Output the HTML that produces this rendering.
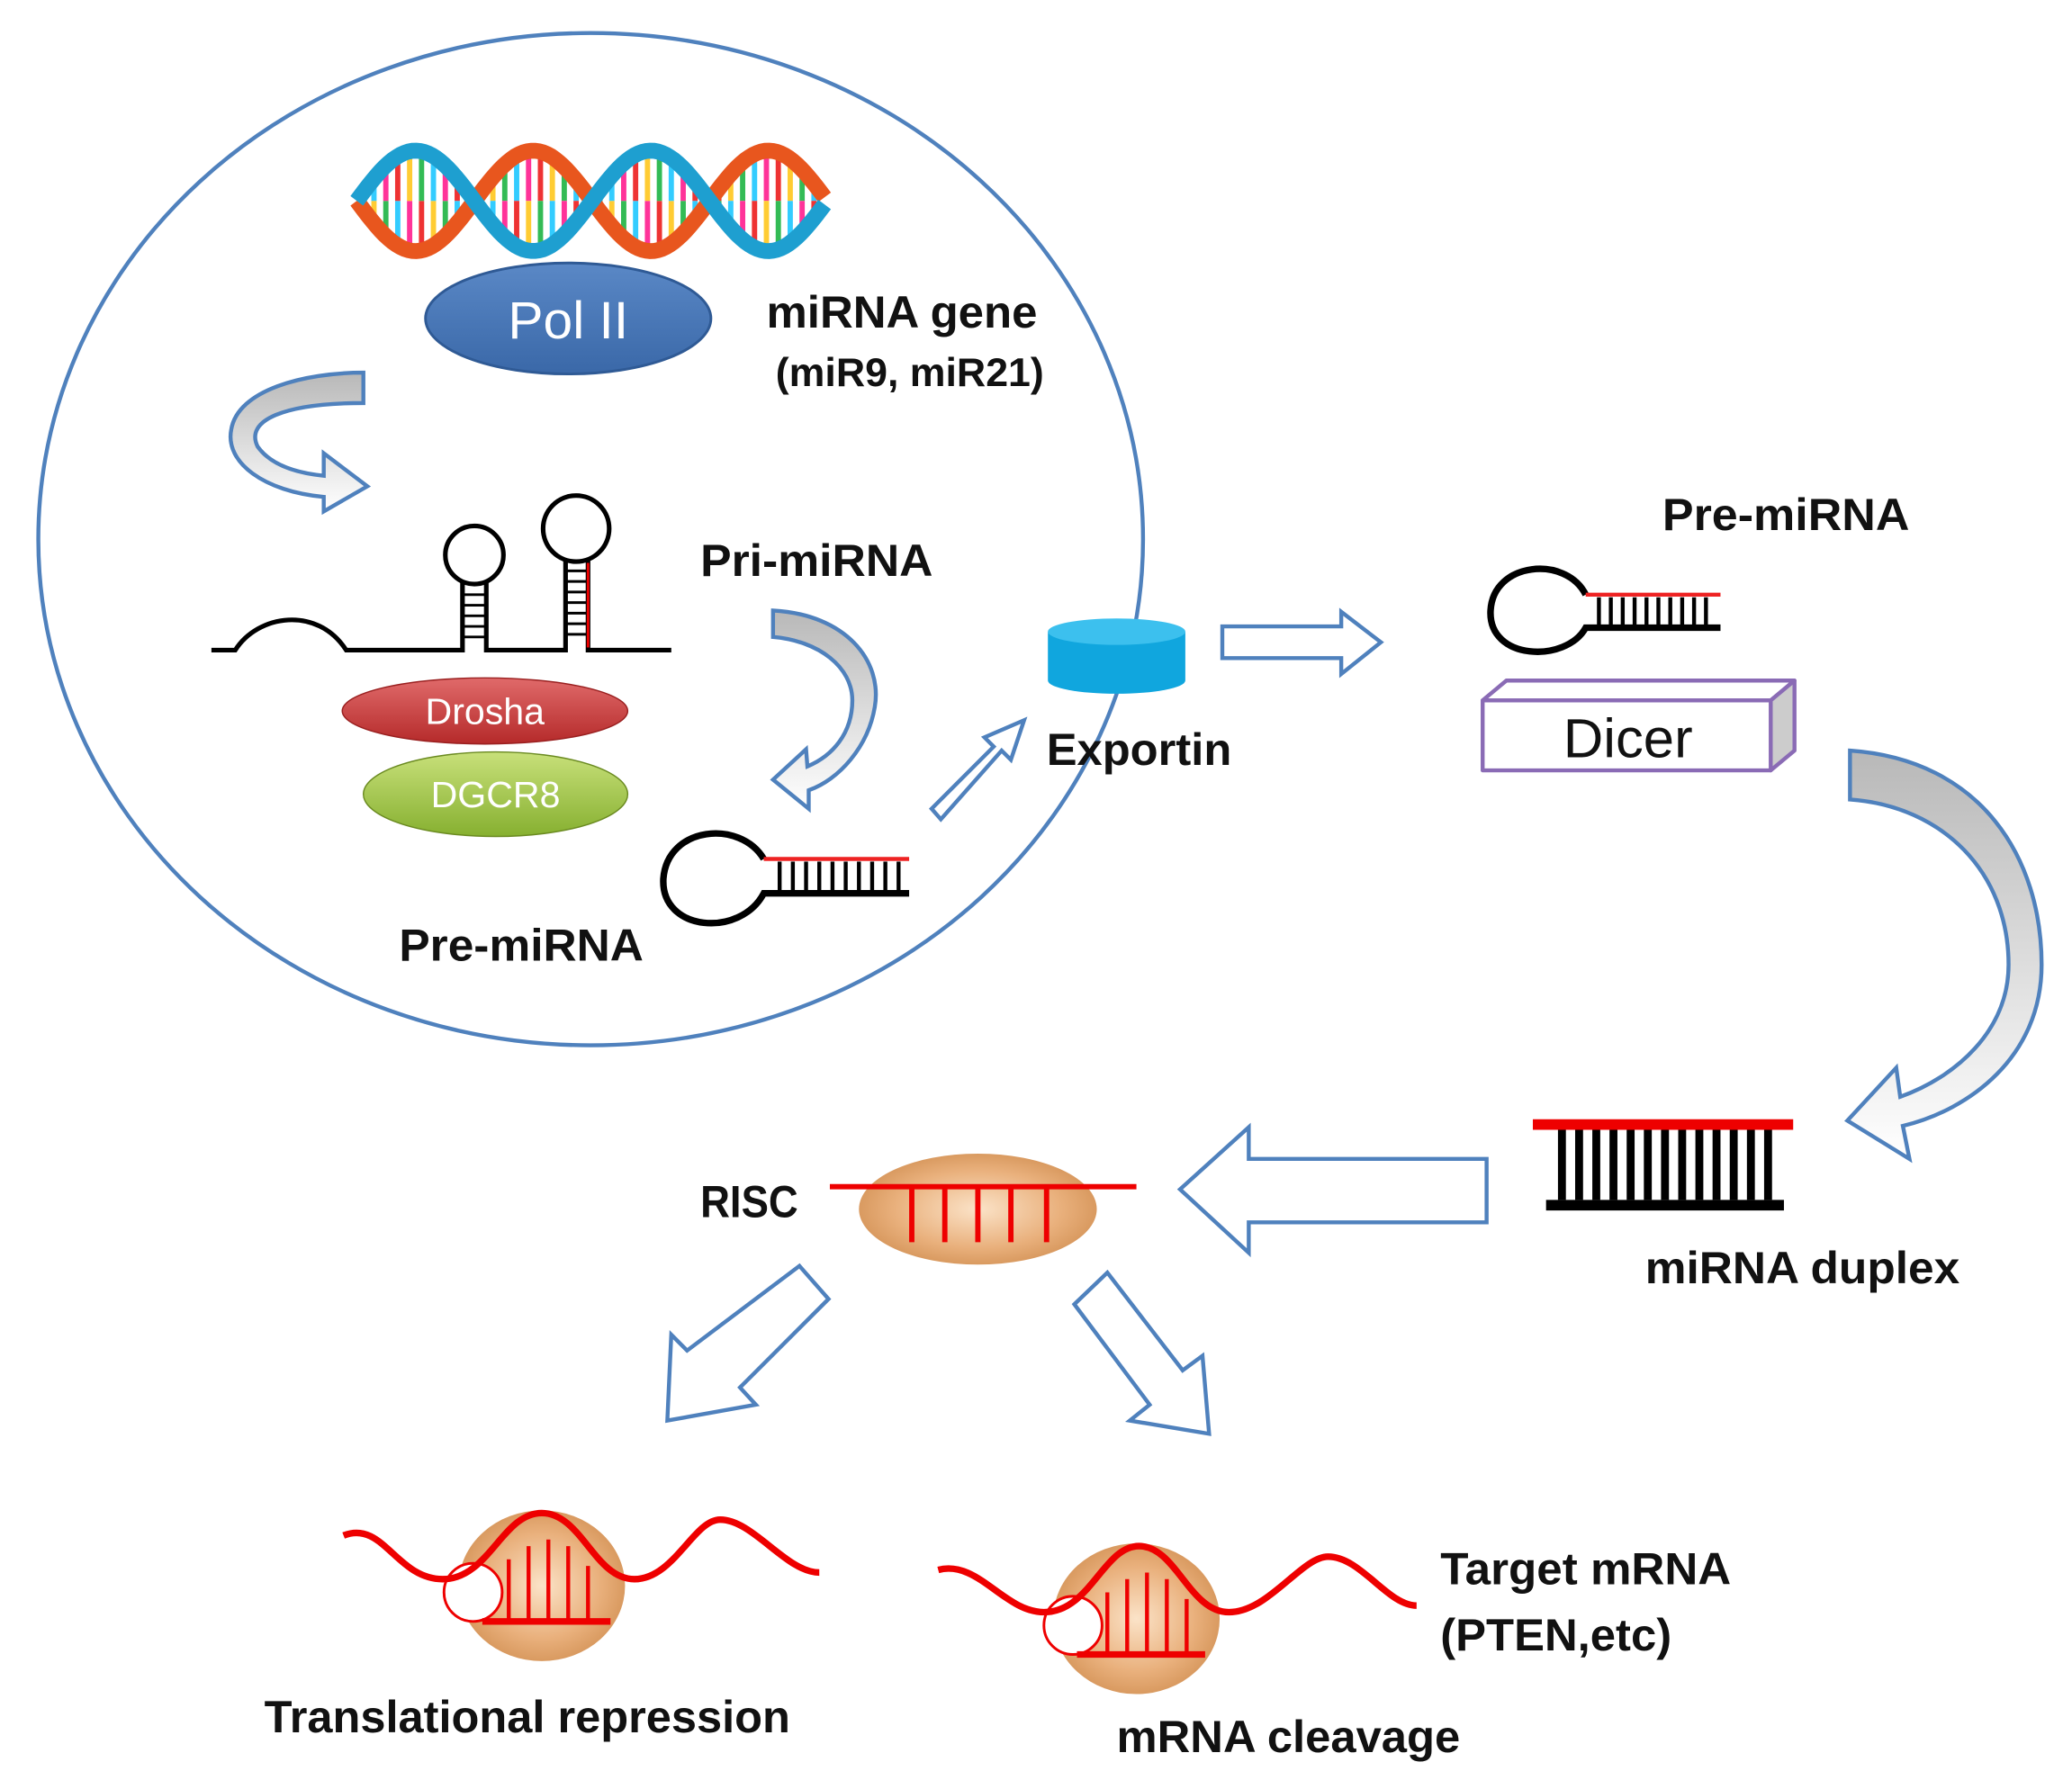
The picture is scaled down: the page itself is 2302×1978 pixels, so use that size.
<!DOCTYPE html>
<html><head><meta charset="utf-8"><style>
html,body{margin:0;padding:0;background:#fff;}
svg{display:block;}
text{font-family:"Liberation Sans",sans-serif;font-weight:bold;fill:#111;}
</style></head><body>
<svg id="s" width="2302" height="1978" viewBox="0 0 1568 1347" preserveAspectRatio="none" xmlns="http://www.w3.org/2000/svg">
<defs>
<linearGradient id="gr" x1="0" y1="0" x2="0" y2="1"><stop offset="0" stop-color="#b8b8b8"/><stop offset="1" stop-color="#ffffff"/></linearGradient>
<radialGradient id="org" cx="0.5" cy="0.5" r="0.5"><stop offset="0" stop-color="#fbe3c8"/><stop offset="0.7" stop-color="#e9b07c"/><stop offset="1" stop-color="#d99a60"/></radialGradient>
<linearGradient id="pol" x1="0" y1="0" x2="0" y2="1"><stop offset="0" stop-color="#5a88c6"/><stop offset="1" stop-color="#3a68a8"/></linearGradient>
<linearGradient id="dro" x1="0" y1="0" x2="0" y2="1"><stop offset="0" stop-color="#e06a6a"/><stop offset="1" stop-color="#b52a2a"/></linearGradient>
<linearGradient id="dgc" x1="0" y1="0" x2="0" y2="1"><stop offset="0" stop-color="#c8e07a"/><stop offset="1" stop-color="#86b030"/></linearGradient>
</defs>
<g stroke="#4f81bd" stroke-width="3">
<ellipse cx="447" cy="408" rx="418" ry="383" fill="none"/>
</g>
<g id="helix"></g>
<ellipse cx="430" cy="241" rx="108" ry="42" fill="url(#pol)" stroke="#2f5a95" stroke-width="2"/>
<text x="430" y="256" text-anchor="middle" font-size="40" style="fill:#fff;font-weight:normal">Pol II</text>
<text x="580" y="248" font-size="34" textLength="205" lengthAdjust="spacingAndGlyphs">miRNA gene</text>
<text x="587" y="292" font-size="30" textLength="203" lengthAdjust="spacingAndGlyphs">(miR9, miR21)</text>
<path d="M275,282 L275,305 C215,305 185,318 195,338 C205,352 225,358 245,360 L245,343 L278,368 L245,387 L245,376 C200,372 170,350 175,325 C180,295 230,282 275,282 Z" fill="url(#gr)" stroke="#4f81bd" stroke-width="3"/>
<g fill="none" stroke="#000" stroke-width="3.5">
<path d="M160,492 L178,492 C195,465 240,458 262,492 L350,492 L350,440 M368,440 L368,492 L428,492 L428,424 M445,424 L445,492 L508,492"/>
<circle cx="359" cy="420" r="22"/>
<circle cx="436" cy="400" r="25"/>
</g>
<g stroke="#000" stroke-width="2"><line x1="350" y1="450" x2="368" y2="450"/><line x1="350" y1="458" x2="368" y2="458"/><line x1="350" y1="466" x2="368" y2="466"/><line x1="350" y1="474" x2="368" y2="474"/><line x1="350" y1="482" x2="368" y2="482"/>
<line x1="428" y1="432" x2="445" y2="432"/><line x1="428" y1="440" x2="445" y2="440"/><line x1="428" y1="448" x2="445" y2="448"/><line x1="428" y1="456" x2="445" y2="456"/><line x1="428" y1="464" x2="445" y2="464"/><line x1="428" y1="472" x2="445" y2="472"/><line x1="428" y1="480" x2="445" y2="480"/></g>
<line x1="445" y1="426" x2="445" y2="490" stroke="#e00" stroke-width="2"/>
<text x="530" y="436" font-size="34" textLength="176" lengthAdjust="spacingAndGlyphs">Pri-miRNA</text>
<ellipse cx="367" cy="538" rx="108" ry="25" fill="url(#dro)" stroke="#9a2020" stroke-width="1"/>
<text x="367" y="548" text-anchor="middle" font-size="28" style="fill:#fff;font-weight:normal">Drosha</text>
<ellipse cx="375" cy="601" rx="100" ry="32" fill="url(#dgc)" stroke="#6a8a20" stroke-width="1"/>
<text x="375" y="611" text-anchor="middle" font-size="28" style="fill:#fff;font-weight:normal">DGCR8</text>
<path d="M585,462 C640,465 668,500 662,535 C657,565 635,590 612,598 L612,612 L585,590 L610,567 L611,580 C630,572 645,555 645,530 C645,505 620,485 585,482 Z" fill="url(#gr)" stroke="#4f81bd" stroke-width="3"/>
<g fill="none" stroke="#000" stroke-width="5"><path d="M578,650 C560,620 505,625 502,665 C500,705 560,710 578,676 L688,676"/></g>
<line x1="578" y1="650" x2="688" y2="650" stroke="#e22" stroke-width="3"/>
<g id="r1" stroke="#000" stroke-width="3"></g>
<text x="302" y="727" font-size="34" textLength="185" lengthAdjust="spacingAndGlyphs">Pre-miRNA</text>
<polygon points="705,612 752,565 745,558 775,545 765,575 758,568 712,620" fill="#fff" stroke="#4f81bd" stroke-width="3"/>
<path d="M793,478 L793,515 A52,10 0 0 0 897,515 L897,478 Z" fill="#10a6de"/>
<ellipse cx="845" cy="478" rx="52" ry="10" fill="#3cc0ee"/>
<text x="792" y="579" font-size="34" textLength="140" lengthAdjust="spacingAndGlyphs">Exportin</text>
<polygon points="925,474 1015,474 1015,463 1045,486 1015,510 1015,498 925,498" fill="#fff" stroke="#4f81bd" stroke-width="3"/>
<text x="1258" y="401" font-size="34" textLength="187" lengthAdjust="spacingAndGlyphs">Pre-miRNA</text>
<g fill="none" stroke="#000" stroke-width="5"><path d="M1200,450 C1185,420 1130,425 1128,462 C1126,500 1185,502 1200,475 L1302,475"/></g>
<line x1="1200" y1="450" x2="1302" y2="450" stroke="#e22" stroke-width="3"/>
<g id="r2" stroke="#000" stroke-width="3"></g>
<g stroke="#8a6bb5" stroke-width="3" stroke-linejoin="round">
<polygon points="1122,530 1340,530 1358,515 1140,515" fill="#fff"/>
<polygon points="1340,530 1358,515 1358,568 1340,583" fill="#ccc"/>
<rect x="1122" y="530" width="218" height="53" fill="#fff"/>
</g>
<text x="1232" y="573" text-anchor="middle" font-size="42" style="font-weight:normal">Dicer</text>
<path d="M1400,568 C1500,575 1545,650 1545,730 C1545,800 1490,840 1440,852 L1445,877 L1398,848 L1435,808 L1438,830 C1480,815 1520,780 1520,730 C1520,660 1470,610 1400,605 Z" fill="url(#gr)" stroke="#4f81bd" stroke-width="3"/>
<line x1="1160" y1="851" x2="1357" y2="851" stroke="#e00" stroke-width="8"/>
<line x1="1170" y1="912" x2="1350" y2="912" stroke="#000" stroke-width="8"/>
<g id="r3" stroke="#000" stroke-width="6"></g>
<text x="1245" y="971" font-size="34" textLength="238" lengthAdjust="spacingAndGlyphs">miRNA duplex</text>
<polygon points="1125,877 945,877 945,853 893,900 945,948 945,925 1125,925" fill="#fff" stroke="#4f81bd" stroke-width="3"/>
<ellipse cx="740" cy="915" rx="90" ry="42" fill="url(#org)"/>
<line x1="628" y1="898" x2="860" y2="898" stroke="#e00" stroke-width="4"/>
<g stroke="#e00" stroke-width="4"><line x1="690" y1="898" x2="690" y2="940"/><line x1="715" y1="898" x2="715" y2="940"/><line x1="740" y1="898" x2="740" y2="940"/><line x1="765" y1="898" x2="765" y2="940"/><line x1="792" y1="898" x2="792" y2="940"/></g>
<text x="530" y="921" font-size="34" textLength="74" lengthAdjust="spacingAndGlyphs">RISC</text>
<polygon points="605,958 627,983 560,1050 572,1063 505,1075 508,1010 520,1022" fill="#fff" stroke="#4f81bd" stroke-width="3"/>
<polygon points="813,987 838,963 895,1037 910,1026 915,1085 855,1075 870,1063" fill="#fff" stroke="#4f81bd" stroke-width="3"/>
<ellipse cx="410" cy="1200" rx="63" ry="57" fill="url(#org)"/>
<circle cx="358" cy="1205" r="22" fill="#fff" stroke="#e00" stroke-width="2"/>
<g stroke="#e00" stroke-width="3"><line x1="385" y1="1180" x2="385" y2="1225"/><line x1="400" y1="1170" x2="400" y2="1225"/><line x1="415" y1="1165" x2="415" y2="1225"/><line x1="430" y1="1170" x2="430" y2="1225"/><line x1="445" y1="1185" x2="445" y2="1225"/></g>
<line x1="365" y1="1227" x2="462" y2="1227" stroke="#e00" stroke-width="5"/>
<path d="M260,1162 C290,1150 300,1195 335,1195 C370,1195 380,1145 410,1145 C440,1145 450,1195 480,1195 C510,1195 525,1150 545,1150 C570,1150 595,1190 620,1190" fill="none" stroke="#e00" stroke-width="5"/>
<text x="200" y="1311" font-size="34" textLength="398" lengthAdjust="spacingAndGlyphs">Translational repression</text>
<ellipse cx="860" cy="1225" rx="63" ry="57" fill="url(#org)"/>
<circle cx="812" cy="1230" r="22" fill="#fff" stroke="#e00" stroke-width="2"/>
<g stroke="#e00" stroke-width="3"><line x1="838" y1="1205" x2="838" y2="1250"/><line x1="853" y1="1195" x2="853" y2="1250"/><line x1="868" y1="1190" x2="868" y2="1250"/><line x1="883" y1="1195" x2="883" y2="1250"/><line x1="898" y1="1210" x2="898" y2="1250"/></g>
<line x1="815" y1="1252" x2="912" y2="1252" stroke="#e00" stroke-width="5"/>
<path d="M710,1188 C740,1180 760,1220 790,1220 C825,1220 835,1170 862,1170 C890,1170 900,1220 930,1220 C960,1220 985,1178 1005,1178 C1030,1178 1050,1215 1072,1215" fill="none" stroke="#e00" stroke-width="5"/>
<text x="1090" y="1199" font-size="34" textLength="220" lengthAdjust="spacingAndGlyphs">Target mRNA</text>
<text x="1090" y="1249" font-size="34" textLength="175" lengthAdjust="spacingAndGlyphs">(PTEN,etc)</text>
<text x="845" y="1326" font-size="34" textLength="260" lengthAdjust="spacingAndGlyphs">mRNA cleavage</text>
</svg>
<script>
var NS="http://www.w3.org/2000/svg";
function L(g,x1,y1,x2,y2,c,w){var l=document.createElementNS(NS,"line");l.setAttribute("x1",x1);l.setAttribute("y1",y1);l.setAttribute("x2",x2);l.setAttribute("y2",y2);if(c)l.setAttribute("stroke",c);if(w)l.setAttribute("stroke-width",w);g.appendChild(l);}
var r1=document.getElementById("r1");for(var x=590;x<=684;x+=10)L(r1,x,652,x,674);
var r2=document.getElementById("r2");for(var x=1210;x<=1298;x+=9)L(r2,x,452,x,473);
var r3=document.getElementById("r3");for(var x=1182;x<=1340;x+=13)L(r3,x,855,x,908);
var h=document.getElementById("helix");var cols=["#e33","#fc3","#3b5","#3cf","#f39"];
var P=178,A=38,cy=152,x0=270;
for(var x=x0+4,i=0;x<625;x+=9,i++){var a=cy+A*Math.sin(2*Math.PI*(x-x0)/P),b=cy-A*Math.sin(2*Math.PI*(x-x0)/P);var m=(a+b)/2;L(h,x,a,x,m,cols[i%5],4);L(h,x,m,x,b,cols[(i+2)%5],4);}
function strand(s,col){var d="";for(var x=x0;x<=625;x+=3){var y=cy+s*A*Math.sin(2*Math.PI*(x-x0)/P);d+=(x==x0?"M":"L")+x+","+y.toFixed(1);}var p=document.createElementNS(NS,"path");p.setAttribute("d",d);p.setAttribute("fill","none");p.setAttribute("stroke",col);p.setAttribute("stroke-width","12");h.appendChild(p);}
strand(1,"#e8561e");strand(-1,"#1e9fd0");
</script>
</body></html>
